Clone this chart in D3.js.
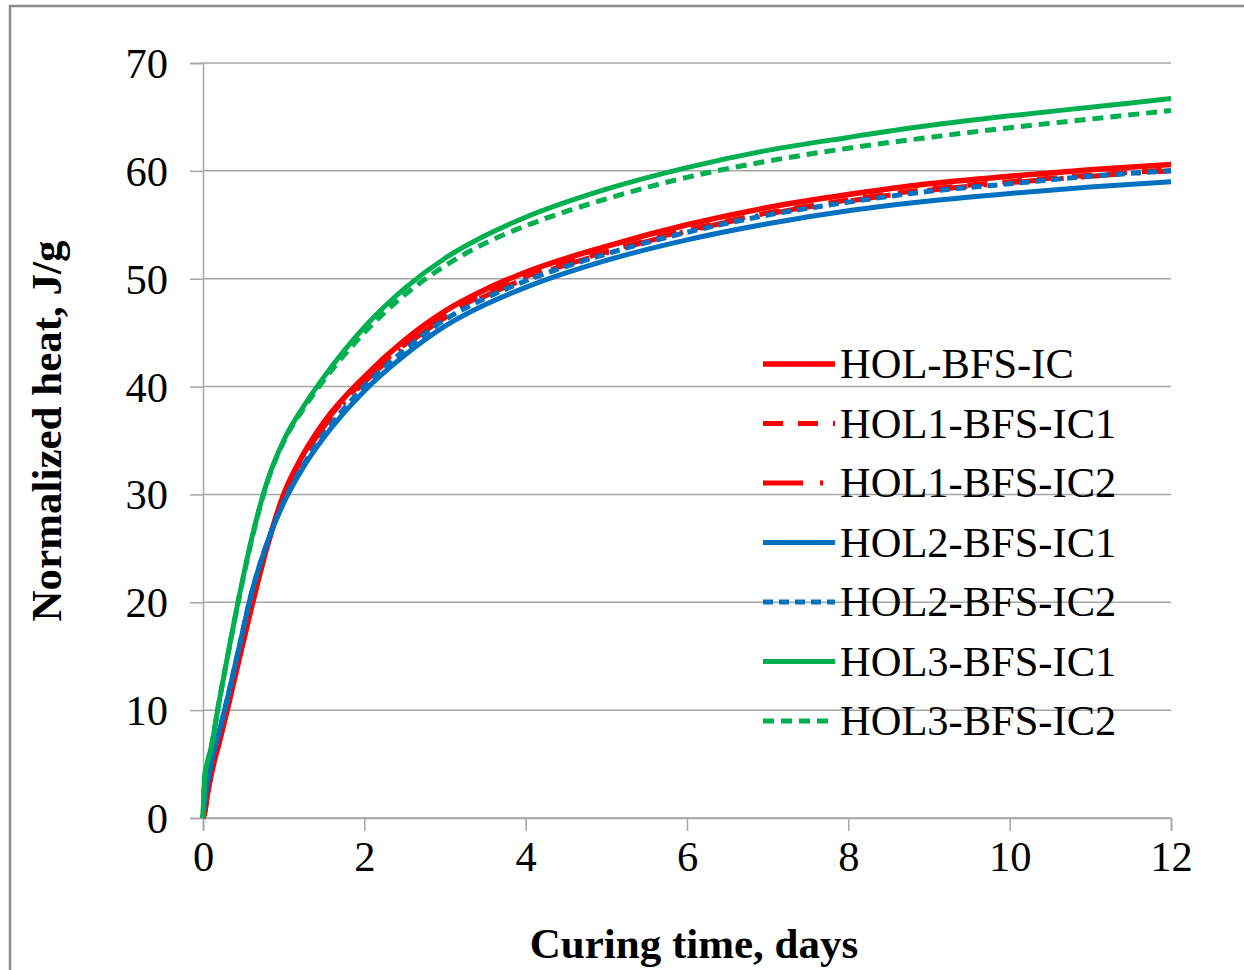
<!DOCTYPE html>
<html>
<head>
<meta charset="utf-8">
<script src="https://cdn.jsdelivr.net/npm/d3@7"></script>
<style>
  body { margin: 0; background: #fff; }
  text { font-family: "Liberation Serif", "Times New Roman", serif; fill: #000; }
</style>
</head>
<body>
<div id="chart"></div>
<script>
// curing time, days
var days = [0, 0.02, 0.05, 0.1, 0.2, 0.3, 0.45, 0.6, 0.8, 1.0, 1.25, 1.5, 2, 2.5, 3, 3.5, 4, 5, 6, 7, 8, 9, 10, 11, 12];

// normalized heat, J/g
var hol_bfs_ic   = [0, 0.5, 2.0, 4.0, 7.0, 10.0, 14.8, 19.5, 25.3, 30.0, 33.8, 36.7, 40.9, 44.3, 47.0, 49.0, 50.6, 53.0, 55.0, 56.6, 57.8, 58.8, 59.5, 60.1, 60.6];
var hol1_bfs_ic1 = [0, 0.5, 2.0, 4.0, 7.0, 10.1, 14.9, 19.6, 25.3, 29.9, 33.6, 36.5, 40.6, 43.9, 46.6, 48.6, 50.2, 52.5, 54.5, 56.1, 57.3, 58.3, 59.0, 59.6, 60.1];
var hol1_bfs_ic2 = [0, 0.5, 2.0, 4.0, 7.1, 10.2, 15.0, 19.7, 25.3, 29.8, 33.5, 36.3, 40.4, 43.7, 46.4, 48.4, 50.0, 52.4, 54.4, 56.0, 57.2, 58.2, 58.9, 59.5, 60.0];
var hol2_bfs_ic1 = [0, 1.5, 3.0, 5.0, 8.0, 11.0, 15.9, 20.8, 25.6, 29.2, 32.6, 35.3, 39.6, 42.9, 45.6, 47.6, 49.2, 51.7, 53.6, 55.1, 56.3, 57.2, 57.9, 58.5, 59.0];
var hol2_bfs_ic2 = [0, 1.5, 3.0, 5.0, 8.0, 11.0, 15.9, 20.8, 25.6, 29.3, 32.8, 35.6, 40.0, 43.4, 46.2, 48.2, 49.8, 52.3, 54.3, 55.9, 57.1, 58.1, 58.8, 59.5, 60.0];
var hol3_bfs_ic1 = [0, 3.8, 5.0, 6.5, 10.8, 14.8, 20.6, 25.8, 31.3, 35.0, 38.2, 40.9, 45.5, 49.1, 51.9, 54.0, 55.7, 58.3, 60.3, 61.9, 63.1, 64.2, 65.1, 65.9, 66.7];
var hol3_bfs_ic2 = [0, 3.6, 5.0, 6.5, 10.8, 14.8, 20.5, 25.7, 31.2, 34.9, 38.0, 40.6, 45.0, 48.5, 51.2, 53.3, 54.9, 57.4, 59.4, 60.9, 62.1, 63.1, 64.0, 64.8, 65.6];

var names = ["HOL-BFS-IC", "HOL1-BFS-IC1", "HOL1-BFS-IC2", "HOL2-BFS-IC1", "HOL2-BFS-IC2", "HOL3-BFS-IC1", "HOL3-BFS-IC2"];
var xTicks = [0, 2, 4, 6, 8, 10, 12];
var yTicks = [0, 10, 20, 30, 40, 50, 60, 70];

var series = [
    {name: names[0], values: hol_bfs_ic,   color: "#FF0000", dash: null,          w: 5.5},
    {name: names[1], values: hol1_bfs_ic1, color: "#FF0000", dash: "20,15",       w: 5},
    {name: names[2], values: hol1_bfs_ic2, color: "#FF0000", dash: "40,17,3,17",  w: 5},
    {name: names[3], values: hol2_bfs_ic1, color: "#0070C0", dash: null,          w: 5},
    {name: names[4], values: hol2_bfs_ic2, color: "#0070C0", dash: "10,6",        w: 5},
    {name: names[5], values: hol3_bfs_ic1, color: "#00B050", dash: null,          w: 5},
    {name: names[6], values: hol3_bfs_ic2, color: "#00B050", dash: "11,7",        w: 5}
];

var W = 1244, H = 970;
var margin = {top: 63, right: 73, bottom: 152, left: 203},
    width = W - margin.left - margin.right,
    height = H - margin.top - margin.bottom;

var svg = d3.select("#chart").append("svg")
    .attr("width", W)
    .attr("height", H);

svg.append("rect")
    .attr("x", 0).attr("y", 0).attr("width", W).attr("height", H)
    .attr("fill", "#fff");

// outer frame
svg.append("rect")
    .attr("x", 10).attr("y", 6)
    .attr("width", 1250).attr("height", 980)
    .attr("fill", "none")
    .attr("stroke", "#8c8c8c")
    .attr("stroke-width", 2.5);

var g = svg.append("g")
    .attr("transform", "translate(" + margin.left + "," + margin.top + ")");

var x = d3.scaleLinear().domain([0, 12]).range([0, width]);
var y = d3.scaleLinear().domain([0, 70]).range([height, 0]);

// horizontal grid
g.append("g")
    .selectAll("line")
    .data(yTicks)
    .enter().append("line")
    .attr("x1", 0).attr("x2", width)
    .attr("y1", function (d) { return y(d); })
    .attr("y2", function (d) { return y(d); })
    .attr("stroke", "#a6a6a6")
    .attr("stroke-width", 1.5);

var yAxis = g.append("g")
    .call(d3.axisLeft(y).tickValues(yTicks).tickSize(13).tickPadding(22));
var xAxis = g.append("g")
    .attr("transform", "translate(0," + height + ")")
    .call(d3.axisBottom(x).tickValues(xTicks).tickSize(13).tickPadding(10));

[yAxis, xAxis].forEach(function (a) {
    a.select(".domain").attr("stroke", "#a6a6a6").attr("stroke-width", 1.5);
    a.selectAll(".tick line").attr("stroke", "#a6a6a6").attr("stroke-width", 1.5);
    a.selectAll(".tick text")
        .attr("font-family", "Liberation Serif, Times New Roman, serif")
        .attr("font-size", 42.5)
        .attr("fill", "#000");
});
yAxis.selectAll(".tick text").attr("dy", "0.34em");
xAxis.selectAll(".tick text").attr("dy", "0.71em");

var line = d3.line()
    .x(function (d, i) { return x(days[i]); })
    .y(function (d) { return y(d); })
    .curve(d3.curveMonotoneX);

g.append("g")
    .selectAll("path")
    .data(series)
    .enter().append("path")
    .attr("d", function (d) { return line(d.values); })
    .attr("fill", "none")
    .attr("stroke", function (d) { return d.color; })
    .attr("stroke-width", function (d) { return d.w; })
    .attr("stroke-dasharray", function (d) { return d.dash; });

// legend, no box
var legend = svg.append("g")
    .selectAll("g")
    .data(series)
    .enter().append("g")
    .attr("transform", function (d, i) { return "translate(763," + (364 + i * 59.5) + ")"; });

legend.append("line")
    .attr("x1", 0).attr("x2", 72)
    .attr("stroke", function (d) { return d.color; })
    .attr("stroke-width", function (d) { return d.w; })
    .attr("stroke-dasharray", function (d) { return d.dash; });

legend.append("text")
    .attr("x", 77)
    .attr("y", 14)
    .attr("font-size", 42.5)
    .text(function (d) { return d.name; });

// axis titles
svg.append("text")
    .attr("x", 694)
    .attr("y", 958)
    .attr("text-anchor", "middle")
    .attr("font-size", 43)
    .attr("font-weight", "bold")
    .text("Curing time, days");

svg.append("text")
    .attr("transform", "translate(61,431) rotate(-90)")
    .attr("text-anchor", "middle")
    .attr("font-size", 43)
    .attr("font-weight", "bold")
    .text("Normalized heat, J/g");
</script>
</body>
</html>
